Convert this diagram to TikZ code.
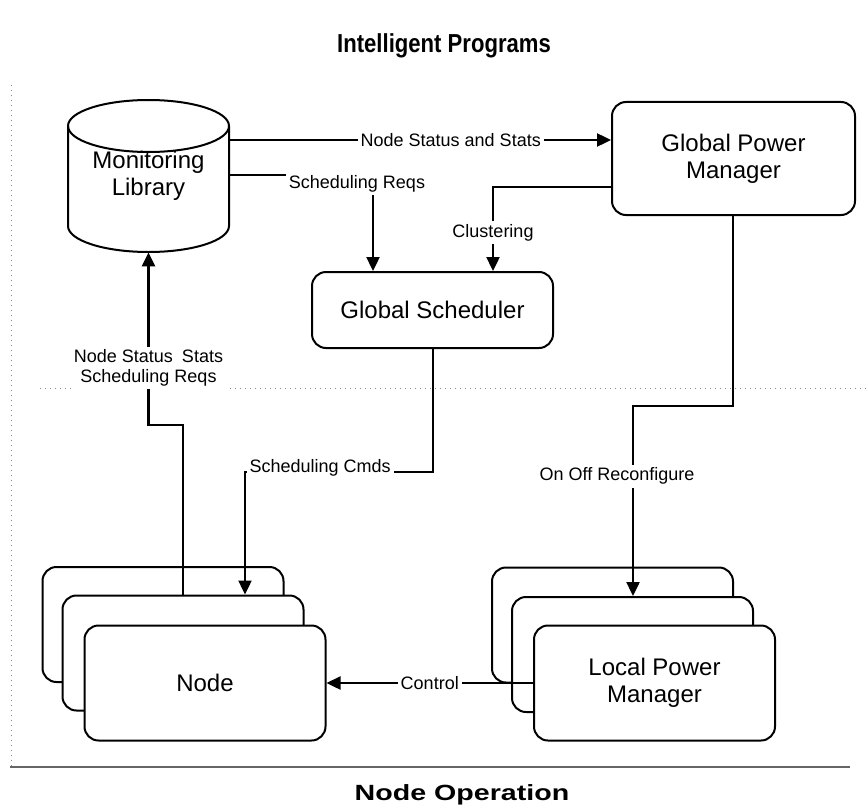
\documentclass[tikz,border=0pt]{standalone}
\usepackage{fontspec}
\setmainfont{Liberation Sans}
\usetikzlibrary{arrows.meta}
\begin{document}
\begin{tikzpicture}[x=0.5pt,y=-0.5pt,
  box/.style={draw, line width=1pt, fill=white, rounded corners=7pt,
    minimum width=120.5pt, align=center, inner sep=0pt,
    font=\fontsize{12}{13.5}\selectfont},
  stackbox/.style={box, minimum height=57.5pt},
  conn/.style={line width=1.2pt},
  arrowed/.style={-{Triangle[length=7pt,width=6.5pt]}},
  lab/.style={fill=white, inner sep=1.5pt, align=center,
    font=\fontsize{9}{10}\selectfont},
  frameline/.style={black!45, line width=0.5pt, dotted}]
\useasboundingbox (0,0) rectangle (866,808);

% region separators
\draw[frameline] (11,85) -- (11,767);
\draw[frameline] (40,388) -- (866,388);
\draw[black!60, line width=0.8pt] (10,767) -- (850,767);

% headings
\node[font=\bfseries\fontsize{13}{15}\selectfont] (title) at (444,46)
  {\scalebox{0.85}[1]{Intelligent Programs}};
\node[font=\bfseries\fontsize{11}{13}\selectfont] (opname) at (462,795)
  {\scalebox{1.3}[1]{Node Operation}};

% monitoring library drawn as a cylinder
\draw[line width=1pt, fill=white] (68,126) -- (68,226)
  arc[start angle=180, end angle=360, x radius=40.25pt, y radius=13pt]
  -- (229,126)
  arc[start angle=0, end angle=180, x radius=40.25pt, y radius=13pt] -- cycle;
\draw[line width=1pt] (68,126)
  arc[start angle=180, end angle=360, x radius=40.25pt, y radius=13pt];
\node[minimum width=80.5pt, minimum height=76pt, inner sep=0pt, align=center,
  font=\fontsize{12}{13.5}\selectfont] (mon) at (148.5,176) {Monitoring\\Library};

% managers and scheduler
\node[box, minimum width=121.5pt, minimum height=56.5pt] (gpm) at (733.5,158.5)
  {Global Power\\Manager};
\node[box, minimum height=38pt] (sched) at (432.5,310) {Global Scheduler};

% stacked nodes
\node[stackbox] (nodeA) at (163,624.5) {};
\node[stackbox] (nodeB) at (183,653) {};
\node[stackbox] (nodeC) at (205,683) {Node};

% stacked local power managers
\node[stackbox] (lpmA) at (612.5,625) {};
\node[stackbox] (lpmB) at (632.5,654.5) {};
\node[stackbox] (lpmC) at (654.5,683) {Local Power\\Manager};

% connectors
\draw[conn, arrowed] (mon.east |- 0,140) --
  node[lab, pos=0.58] {Node Status and Stats} (gpm.west |- 0,140);
\draw[conn, arrowed] (mon.east |- 0,175) -|
  node[lab, pos=0.5, xshift=-8pt, yshift=-4.5pt] {Scheduling Reqs} (373,0 |- sched.north);
\draw[conn, arrowed] (gpm.west |- 0,187) -|
  node[lab, pos=0.77] {Clustering} (493,0 |- sched.north);
\draw[conn, arrowed] (433,0 |- sched.south) -- (433,472) --
  node[lab, pos=0.6, yshift=2pt] {Scheduling Cmds} (245,472) -- (245,0 |- nodeB.north);
\draw[conn, arrowed] (183,0 |- nodeB.north) -- (183,425) -- (148.5,425) --
  node[lab, pos=0.33] {Node Status\enspace Stats\\Scheduling Reqs} (mon.south);
\draw[conn, arrowed] (733,0 |- gpm.south) -- (733,406) -- (633,406) --
  node[lab, pos=0.37, xshift=-8pt] {On Off Reconfigure} (633,0 |- lpmB.north);
\draw[conn, arrowed] (lpmC.west) -- node[lab] {Control} (nodeC.east);
\end{tikzpicture}
\end{document}
